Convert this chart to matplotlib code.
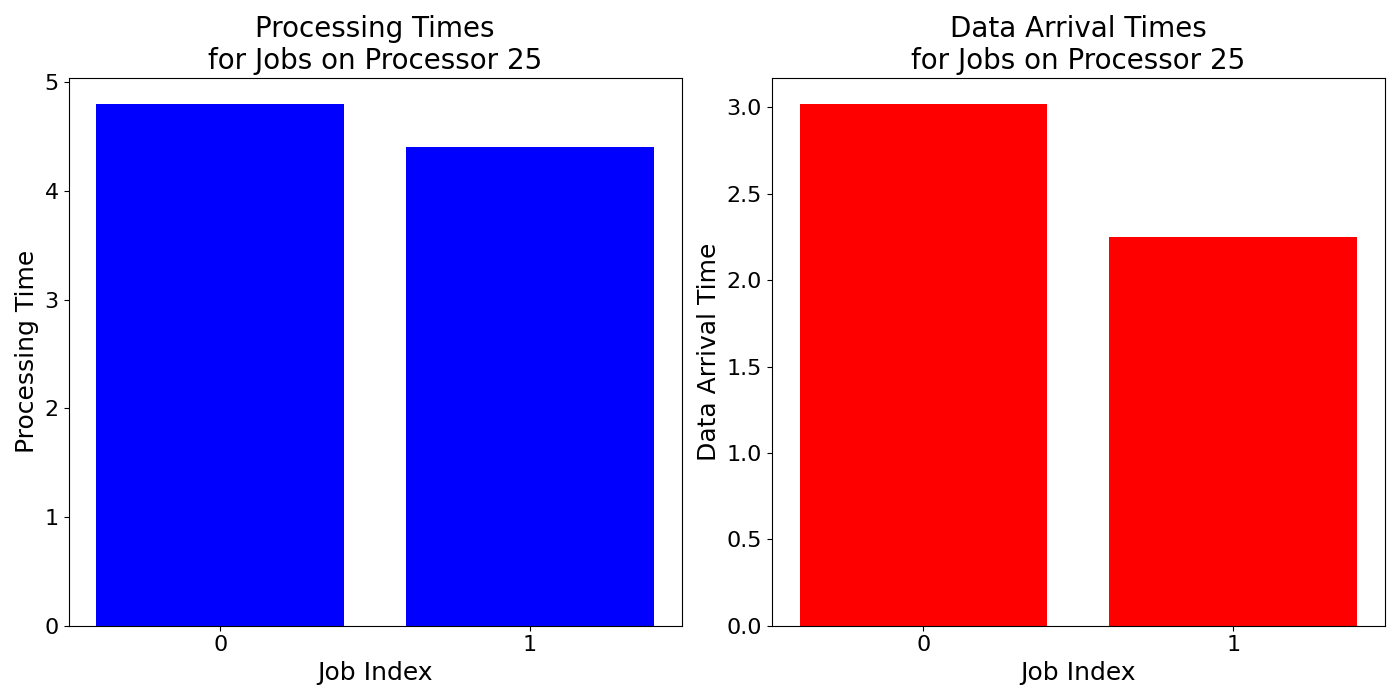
import matplotlib
matplotlib.use("Agg")
import matplotlib.pyplot as plt

jobs = [0, 1]
processing_times = [4.80, 4.40]
arrival_times = [3.02, 2.25]

fig, axes = plt.subplots(1, 2, figsize=(14, 7), dpi=100)
ax = axes[0]
ax.bar(jobs, processing_times, color="blue")
ax.set_title("Processing Times\nfor Jobs on Processor 25", fontsize=20)
ax.set_xlabel("Job Index", fontsize=18)
ax.set_ylabel("Processing Time", fontsize=18)
ax.set_xticks(jobs)
ax.tick_params(labelsize=16)

ax = axes[1]
ax.bar(jobs, arrival_times, color="red")
ax.set_title("Data Arrival Times\nfor Jobs on Processor 25", fontsize=20)
ax.set_xlabel("Job Index", fontsize=18)
ax.set_ylabel("Data Arrival Time", fontsize=18)
ax.set_xticks(jobs)
ax.tick_params(labelsize=16)

fig.tight_layout()
fig.savefig("out.png")
